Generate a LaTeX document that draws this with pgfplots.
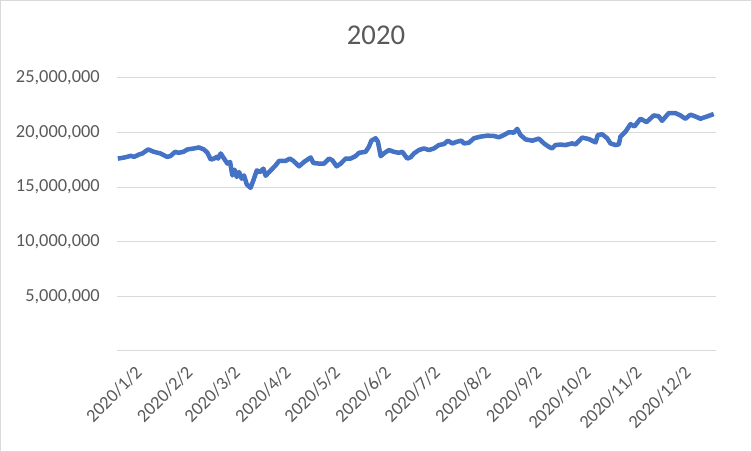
\documentclass[border=0pt]{standalone}
\usepackage{pgfplots}
\pgfplotsset{compat=1.18}
\usepackage{fontspec}
\setmainfont{Carlito}
\definecolor{txtc}{HTML}{595959}
\definecolor{gridc}{HTML}{D9D9D9}
\definecolor{linec}{HTML}{4472C4}
\begin{document}
\begin{tikzpicture}
\path[use as bounding box] (0,0) rectangle (564pt,339pt);
\draw[gridc, line width=0.75pt] (0.375pt,0.375pt) rectangle (563.625pt,338.625pt);
\node[text=txtc, font=\fontsize{21.5}{24}\selectfont, inner sep=0pt] at (282pt,312.4pt) {2020};
\begin{axis}[
  at={(87.75pt,75.75pt)}, anchor=south west,
  scale only axis, width=449.25pt, height=204.75pt,
  xmin=-0.5, xmax=365, ymin=0, ymax=25000000,
  axis line style={draw=none},
  scaled y ticks=false,
  ytick={0,5000000,10000000,15000000,20000000,25000000},
  yticklabels={{},{5,000,000},{10,000,000},{15,000,000},{20,000,000},{25,000,000}},
  ymajorgrids, grid style={color=gridc, line width=0.75pt},
  xtick={0,31,60,91,121,152,182,213,244,274,305,335},
  xticklabels={2020/1/2,2020/2/2,2020/3/2,2020/4/2,2020/5/2,2020/6/2,2020/7/2,2020/8/2,2020/9/2,2020/10/2,2020/11/2,2020/12/2},
  major tick length=0pt, tick style={draw=none},
  ticklabel style={font=\fontsize{13.8}{16}\selectfont, text=txtc},
  xticklabel style={rotate=45, anchor=north east, inner sep=0pt, xshift=1.5pt, yshift=-15.5pt},
  yticklabel style={anchor=east, inner sep=0pt, xshift=-12.75pt},
  clip=false,
]
\addplot[linec, line width=3.4pt, line join=round, mark=none] coordinates {
(0,17620000) (4,17720000) (8,17870000) (10,17780000) (13,18000000) (15,18090000)
(18.5,18460000) (22,18240000) (26,18090000) (30,17780000) (32,17840000) (35,18240000)
(37,18150000) (40,18240000) (42.5,18460000) (46.5,18550000) (49.5,18640000) (52.5,18460000)
(54.7,18150000) (56.7,17530000) (58.7,17620000) (60.4,17780000) (61.2,17620000) (62.8,18090000)
(64.8,17620000) (66.9,17160000) (68.5,17310000) (69.9,16080000) (71.3,16600000) (72.6,15930000)
(74,16390000) (75.6,15770000) (77,16080000) (78.7,15250000) (81,14940000) (82.7,15620000)
(84.8,16540000) (86.8,16390000) (88.8,16700000) (90.2,16050000) (93.3,16540000) (96.3,17000000)
(98.4,17410000) (102.4,17410000) (105,17620000) (107.1,17410000) (110.6,16910000) (113.6,17310000)
(117.7,17720000) (119.3,17220000) (122.8,17160000) (125.8,17160000) (128.9,17620000) (130.9,17470000)
(133.5,16910000) (136,17160000) (139,17620000) (142,17620000) (145,17840000) (147.2,18150000)
(151.2,18240000) (153.2,18700000) (154.7,19260000) (157.3,19480000) (158.7,19170000) (160.4,17840000)
(162.8,18150000) (165.4,18400000) (168.5,18240000) (171.5,18150000) (173.6,18240000) (176.6,17620000)
(178.7,17750000) (180.7,18090000) (183.7,18400000) (186.8,18550000) (189.8,18400000) (192.9,18550000)
(195.9,18860000) (199,18950000) (201.4,19260000) (204.1,19010000) (207.1,19170000) (209.6,19260000)
(211.2,19010000) (214.2,19070000) (217.3,19480000) (221.3,19630000) (225.4,19720000) (229.5,19690000)
(232.5,19570000) (235.6,19780000) (238.6,20030000) (241.7,20000000) (243.7,20340000) (245.7,19780000)
(248.8,19380000) (252.9,19260000) (256.9,19450000) (260,19010000) (263,18700000) (265,18550000)
(267,18860000) (270,18900000) (273.2,18860000) (277.2,19010000) (279.3,18920000) (283.3,19540000)
(287.4,19410000) (291.5,19100000) (292.9,19780000) (295.5,19850000) (298.6,19480000) (300.6,19010000)
(303.7,18860000) (305.7,18920000) (306.7,19630000) (309.8,20090000) (312.8,20770000) (315.2,20560000)
(318.9,21270000) (322.6,20960000) (327,21570000) (330,21500000) (332.1,21080000) (336.2,21790000)
(340.2,21790000) (343.3,21570000) (346.3,21270000) (349.4,21640000) (352.4,21480000) (355.5,21270000)
(359.6,21480000) (363.6,21700000)
};
\end{axis}
\end{tikzpicture}
\end{document}
